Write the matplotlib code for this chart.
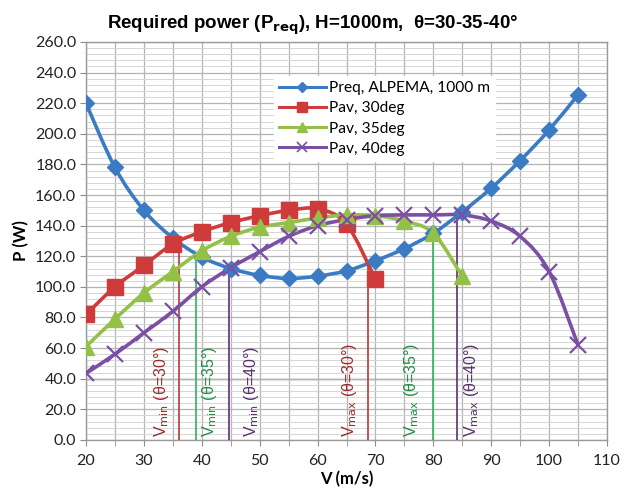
import numpy as np
import matplotlib
matplotlib.use('Agg')
import matplotlib.pyplot as plt
from matplotlib.path import Path
from matplotlib.patches import PathPatch
from matplotlib.lines import Line2D

plt.rcParams['font.family'] = ['Lato', 'DejaVu Sans']

# Data
v_req = [20, 25, 30, 35, 40, 45, 50, 55, 60, 65, 70, 75, 80, 85, 90, 95, 100, 105]
p_req = [220, 178, 150, 132, 119.5, 112, 107.5, 105.5, 107, 110.5, 117, 125, 135, 149, 164.5, 182.5, 202.5, 225.5]

v_30 = [20, 25, 30, 35, 40, 45, 50, 55, 60, 65, 70]
p_30 = [82, 100, 114, 128, 136, 142, 146.5, 150, 151, 141, 105]

v_35 = [20, 25, 30, 35, 40, 45, 50, 55, 60, 65, 70, 75, 80, 85]
p_35 = [61, 79, 96, 110, 123.5, 133, 139, 142, 145, 147, 146.5, 143, 135, 107]

v_40 = [20, 25, 30, 35, 40, 45, 50, 55, 60, 65, 70, 75, 80, 85, 90, 95, 100, 105]
p_40 = [43.5, 56, 70, 84, 100, 112.5, 123, 133, 140, 144, 146.5, 147, 147, 147, 143, 133, 110, 62]

# limit speeds (x position, top of the marker line)
lim_v = [36.0, 39.0, 44.7, 68.7, 79.9, 84.1]
lim_top = [130, 122, 112, 115, 135, 147]
lim_lbl = ['min', 'min', 'min', 'max', 'max', 'max']
lim_deg = ['30', '35', '40', '30', '35', '40']
lim_txt_x = [33.1, 41.4, 48.6, 65.6, 76.2, 86.6]

C_BLUE = '#3b7bc4'
C_RED = '#cf3b3b'
C_GREEN = '#93c047'
C_PURPLE = '#7b4fa3'
LINE_COL = ['#b23a3a', '#2fb35e', '#5d2f73', '#b23a3a', '#2fb35e', '#5d2f73']
TEXT_COL = ['#9c2a2a', '#1f8f45', '#55306b', '#9c2a2a', '#1f8f45', '#55306b']


def smooth_line(ax, x, y, color, lw=2.6):
    # Excel-like smoothed line: Catmull-Rom drawn as cubic Bezier segments
    pts = np.column_stack([x, y]).astype(float)
    verts = [pts[0]]
    codes = [Path.MOVETO]
    n = len(pts)
    for i in range(n - 1):
        p0 = pts[i - 1] if i > 0 else pts[i]
        p1 = pts[i]
        p2 = pts[i + 1]
        p3 = pts[i + 2] if i + 2 < n else pts[i + 1]
        c1 = p1 + (p2 - p0) / 6.0
        c2 = p2 - (p3 - p1) / 6.0
        verts += [c1, c2, p2]
        codes += [Path.CURVE4] * 3
    ax.add_patch(PathPatch(Path(verts, codes), facecolor='none',
                           edgecolor=color, lw=lw, zorder=4,
                           capstyle='round', joinstyle='round'))


fig = plt.figure(figsize=(6.25, 4.91), dpi=100)
ax = fig.add_axes([0.1376, 0.104, 0.8336, 0.8105])

ax.set_xlim(20, 110)
ax.set_ylim(0, 260)
ax.set_xticks(np.arange(20, 111, 10))
ax.set_xticks(np.arange(25, 110, 10), minor=True)
ax.set_yticks(np.arange(0, 261, 20))
ax.set_yticks(np.arange(0, 261, 4), minor=True)
ax.set_yticklabels(['{:.1f}'.format(v) for v in np.arange(0, 261, 20)])

ax.grid(True, which='major', color='#b4b4b4', lw=0.9, zorder=0)
ax.grid(True, which='minor', axis='y', color='#d6d6d6', lw=0.7, zorder=0)
ax.grid(True, which='minor', axis='x', color='#b4b4b4', lw=0.9, zorder=0)
ax.axhline(40, color='#8c8c8c', lw=1.0, zorder=0.5)

for s in ax.spines.values():
    s.set_color('#9a9a9a')
    s.set_linewidth(1.0)

ax.tick_params(which='major', length=4, color='#8c8c8c', labelsize=11.5,
               labelcolor='#222222', pad=3)
ax.tick_params(axis='y', which='minor', length=0)
ax.tick_params(axis='x', which='minor', length=4, color='#8c8c8c')
ax.tick_params(axis='x', pad=6)

# series
smooth_line(ax, v_req, p_req, C_BLUE)
smooth_line(ax, v_30, p_30, C_RED)
smooth_line(ax, v_35, p_35, C_GREEN)
smooth_line(ax, v_40, p_40, C_PURPLE)
ax.plot(v_req, p_req, ls='none', marker='D', ms=8.5, color=C_BLUE, zorder=5)
ax.plot(v_30, p_30, ls='none', marker='s', ms=11, color=C_RED, zorder=5)
ax.plot(v_35, p_35, ls='none', marker='^', ms=12, color=C_GREEN, zorder=5)
ax.plot(v_40, p_40, ls='none', marker='x', ms=11, mew=1.6, color=C_PURPLE, zorder=5)

# speed limit markers
for i in range(len(lim_v)):
    ax.plot([lim_v[i], lim_v[i]], [0, lim_top[i]], color=LINE_COL[i], lw=1.2, zorder=3)
    ax.text(lim_txt_x[i], 2, r'V$_{\rm ' + lim_lbl[i] + r'}$ (θ=' + lim_deg[i] + '°)',
            rotation=90, ha='center', va='bottom', fontsize=11.5,
            color=TEXT_COL[i], family=['Liberation Sans', 'DejaVu Sans'], zorder=3)

handles = [
    Line2D([], [], color=C_BLUE, lw=2.2, marker='D', ms=5.5),
    Line2D([], [], color=C_RED, lw=2.2, marker='s', ms=6.5),
    Line2D([], [], color=C_GREEN, lw=2.2, marker='^', ms=7),
    Line2D([], [], color=C_PURPLE, lw=2.2, marker='x', ms=7, mew=1.2),
]
labels = ['Preq, ALPEMA, 1000 m', 'Pav, 30deg', 'Pav, 35deg', 'Pav, 40deg']
leg = ax.legend(handles, labels, loc='upper left', bbox_to_anchor=(0.36, 0.915),
                frameon=True, fancybox=False, framealpha=1, edgecolor='white',
                fontsize=11.2, handlelength=3.0, handletextpad=0.2,
                labelspacing=0.4, borderpad=0.35, borderaxespad=0)
leg.set_zorder(6)

ax.set_xlabel('V (m/s)', fontsize=12, fontweight='bold', labelpad=2)
ax.set_ylabel('P (W)', fontsize=12, fontweight='bold', labelpad=4)

fig.text(0.5, 0.948, r'Required power (P$_{\mathbf{req}}$), H=1000m,  θ=30-35-40°',
         ha='center', va='center', fontsize=13.5, fontweight='bold',
         family=['Liberation Sans', 'DejaVu Sans'])

fig.savefig('out.png', dpi=100, facecolor='white')
